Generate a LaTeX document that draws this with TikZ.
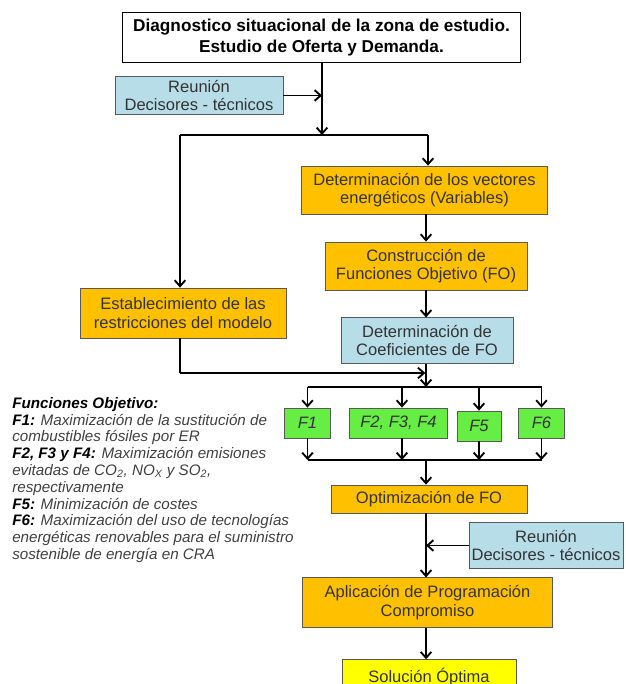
\documentclass[tikz,border=0pt]{standalone}
\usepackage{fontspec}
\setmainfont{Liberation Sans}
\usetikzlibrary{arrows.meta}
\definecolor{orangefill}{HTML}{FFC000}
\definecolor{bluefill}{HTML}{B7DDE8}
\definecolor{greenfill}{HTML}{66EE44}
\definecolor{yellowfill}{HTML}{FFFF00}

\begin{document}
\begin{tikzpicture}[
x=0.75pt, y=-0.75pt,
>={Straight Barb[length=4.5pt,width=8pt]},
link/.style={line width=1.4pt, black},
basenode/.style={rectangle, draw=black!65, line width=0.6pt, align=center, text=black!80, inner sep=1pt, font=\fontsize{12.4}{14}\selectfont},
titlenode/.style={basenode, draw=black, fill=white, text=black, font=\fontsize{12.9}{15.5}\selectfont\bfseries},
orangenode/.style={basenode, fill=orangefill},
bluenode/.style={basenode, fill=bluefill},
greennode/.style={basenode, fill=greenfill, font=\fontsize{12.4}{14}\selectfont\itshape},
yellownode/.style={basenode, fill=yellowfill},
]
    \useasboundingbox (0,0) rectangle (625,684);
    \clip (0,0) rectangle (625,684);

    \node[titlenode]    (diag)   at (321.5,37.5)  [minimum width=299pt, minimum height=38pt]   {Diagnostico situacional de la zona de estudio.\\Estudio de Oferta y Demanda.};
    \node[bluenode]     (reuA)   at (199,95.5)    [minimum width=126pt, minimum height=29pt]   {Reunión\\Decisores - técnicos};
    \node[orangenode]   (vect)   at (424.5,190)   [minimum width=184pt, minimum height=36pt]   {Determinación de los vectores\\energéticos (Variables)};
    \node[orangenode]   (cons)   at (426,266)     [minimum width=151.5pt, minimum height=36pt] {Construcción de\\Funciones Objetivo (FO)};
    \node[bluenode]     (coef)   at (427,340.5)   [minimum width=129pt, minimum height=34pt]   {Determinación de\\Coeficientes de FO};
    \node[orangenode]   (restr)  at (183,313)     [minimum width=154.5pt, minimum height=37.5pt] {Establecimiento de las\\restricciones del modelo};
    \node[greennode]    (fone)   at (307.5,423)   [minimum width=34pt, minimum height=22.5pt]  {F1};
    \node[greennode]    (ftwo)   at (398.5,423)   [minimum width=73pt, minimum height=22.5pt]  {F2, F3, F4};
    \node[greennode]    (ffive)  at (479,426)     [minimum width=33pt, minimum height=22.5pt]  {F5};
    \node[greennode]    (fsix)   at (541.5,423)   [minimum width=34pt, minimum height=22.5pt]  {F6};
    \node[orangenode]   (optim)  at (429,499)     [minimum width=147pt, minimum height=21pt]   {Optimización de FO};
    \node[bluenode]     (reuB)   at (546,545.5)   [minimum width=115.5pt, minimum height=34pt] {Reunión\\Decisores - técnicos};
    \node[orangenode]   (aplic)  at (427.5,602.5) [minimum width=188pt, minimum height=37pt]   {Aplicación de Programación\\Compromiso};
    \node[yellownode]   (sol)    at (429,677)     [minimum width=130.5pt, minimum height=26pt] {Solución Óptima};

    % texto de las funciones objetivo
    \node[anchor=north west, align=left, inner sep=0pt, text=black!75, font=\fontsize{11.4}{12.6}\selectfont\itshape] (leyenda) at (12,397)
    {\textcolor{black}{\textbf{Funciones Objetivo:}}\\
     \textcolor{black}{\textbf{F1:}} Maximización de la sustitución de\\
     combustibles fósiles por ER\\
     \textcolor{black}{\textbf{F2, F3 y F4:}} Maximización emisiones\\
     evitadas de CO\textsubscript{2}, NO\textsubscript{X} y SO\textsubscript{2},\\
     respectivamente\\
     \textcolor{black}{\textbf{F5:}} Minimización de costes\\
     \textcolor{black}{\textbf{F6:}} Maximización del uso de tecnologías\\
     energéticas renovables para el suministro\\
     sostenible de energía en CRA};

    \coordinate (topsplit)  at (322,135);
    \coordinate (leftcol)   at (180,135);
    \coordinate (rightcol)  at (428,135);
    \coordinate (restjoin)  at (180,373);
    \coordinate (fsplit)    at (426,387);
    \coordinate (fmerge)    at (426,460);

    \draw[link, ->] (diag.south -| topsplit) -- (topsplit);
    \draw[link, ->] (reuA.east) -- (reuA.east -| topsplit);
    \draw[link] (leftcol) -- (rightcol);
    \draw[link, ->] (leftcol) -- (restr.north -| leftcol);
    \draw[link, ->] (rightcol) -- (vect.north -| rightcol);
    \draw[link, ->] (vect.south -| cons.north) -- (cons.north);
    \draw[link, ->] (cons.south -| fsplit) -- (coef.north -| fsplit);
    \draw[link, ->] (coef.south -| fsplit) -- (fsplit);
    \draw[link] (restr.south -| restjoin) -- (restjoin);
    \draw[link, ->] (restjoin) -- ([xshift=-0.5pt]restjoin -| fsplit);
    \draw[link] (fone.north |- fsplit) -- (fsix.north |- fsplit);
    \draw[link, ->] (fone.north |- fsplit) -- (fone.north);
    \draw[link, ->] ([xshift=2.6pt]ftwo.north |- fsplit) -- ([xshift=2.6pt]ftwo.north);
    \draw[link, ->] (ffive.north |- fsplit) -- (ffive.north);
    \draw[link, ->] (fsix.north |- fsplit) -- (fsix.north);
    \draw[link] (fone.south |- fmerge) -- (fsix.south |- fmerge);
    \draw[link, ->] (fone.south) -- (fone.south |- fmerge);
    \draw[link, ->] ([xshift=2.6pt]ftwo.south) -- ([xshift=2.6pt]ftwo.south |- fmerge);
    \draw[link, ->] (ffive.south) -- (ffive.south |- fmerge);
    \draw[link, ->] (fsix.south) -- (fsix.south |- fmerge);
    \draw[link, ->] (fmerge) -- (optim.north -| fmerge);
    \draw[link, ->] (optim.south -| fmerge) -- (aplic.north -| fmerge);
    \draw[link, ->] (reuB.west) -- (reuB.west -| fmerge);
    \draw[link, ->] (aplic.south -| fmerge) -- (sol.north -| fmerge);
\end{tikzpicture}
\end{document}
